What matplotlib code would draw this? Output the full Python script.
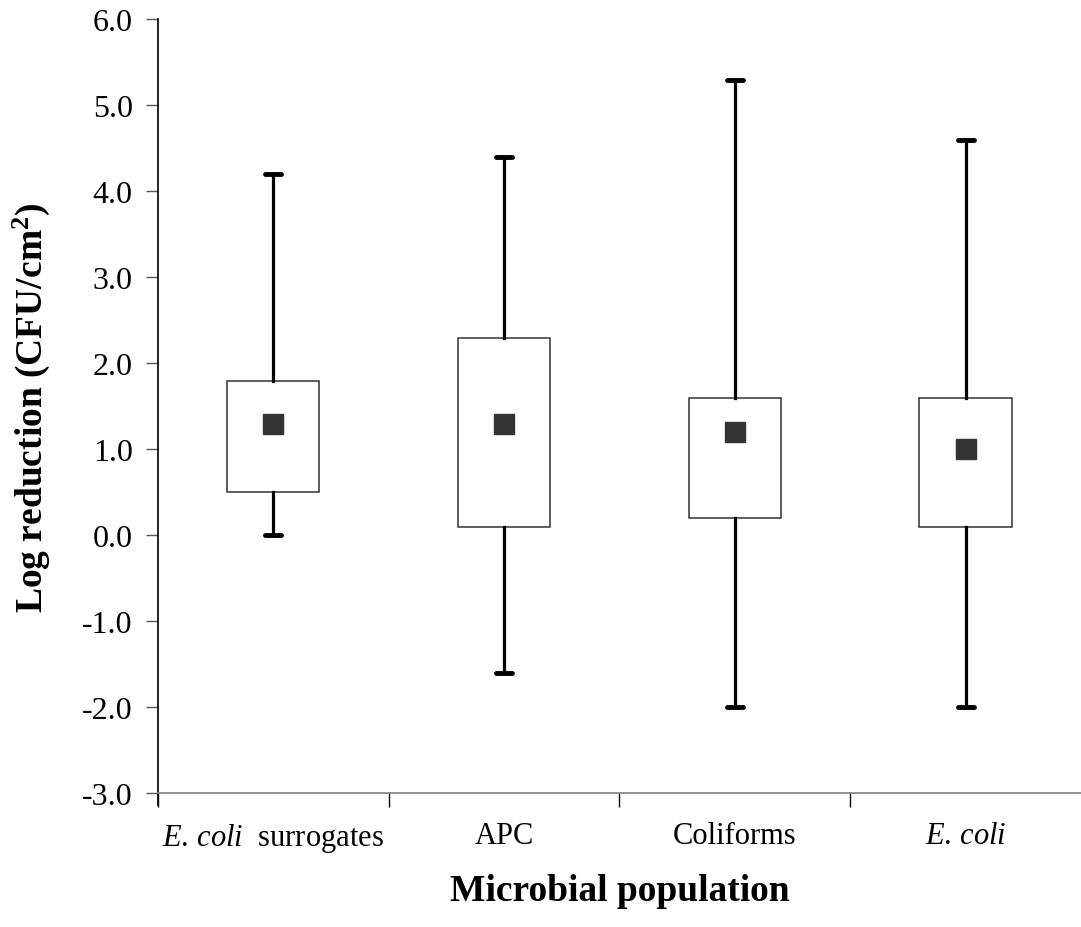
import matplotlib
matplotlib.use("Agg")
import matplotlib.pyplot as plt

# -----------------------------
# Data
# -----------------------------
labels = [r"$\it{E.\,coli}$  surrogates", "APC", "Coliforms", r"$\it{E.\,coli}$"]
mins = [0.0, -1.6, -2.0, -2.0]
q1s = [0.5, 0.1, 0.2, 0.1]
means = [1.3, 1.3, 1.2, 1.0]
q3s = [1.8, 2.3, 1.6, 1.6]
maxs = [4.2, 4.4, 5.3, 4.6]

plt.rcParams['font.family'] = ['Liberation Serif', 'DejaVu Serif']
plt.rcParams['mathtext.fontset'] = 'custom'
plt.rcParams['mathtext.rm'] = 'Liberation Serif'
plt.rcParams['mathtext.it'] = 'Liberation Serif:italic'
plt.rcParams['mathtext.bf'] = 'Liberation Serif:bold'

fig = plt.figure(figsize=(10.81, 9.28), dpi=100)
ax = fig.add_axes([0.146, 0.144, 0.854, 0.834])

stats = []
for lo, a, m, b, hi in zip(mins, q1s, means, q3s, maxs):
    stats.append({"whislo": lo, "q1": a, "med": m, "mean": m, "q3": b, "whishi": hi})

positions = list(range(1, len(stats) + 1))
ax.bxp(stats, positions=positions, widths=0.4, patch_artist=True,
       showmeans=True, showfliers=False, capwidths=0.07,
       boxprops=dict(facecolor="white", edgecolor="#333333", linewidth=1.1),
       whiskerprops=dict(color="black", linewidth=2.3),
       capprops=dict(color="black", linewidth=3.5, solid_capstyle="round"),
       medianprops=dict(visible=False),
       meanprops=dict(marker="s", markerfacecolor="#333333",
                      markeredgecolor="#333333", markersize=14))

# -----------------------------
# Axes styling
# -----------------------------
ax.set_xlim(0.5, 4.5)
ax.set_ylim(-3.0, 6.0)
ax.set_yticks(range(-3, 7))
ax.set_yticklabels([f"{v:.1f}" for v in range(-3, 7)], fontsize=23)

ax.set_xticks([0.5, 1.5, 2.5, 3.5])
ax.set_xticklabels([])
ax.set_xticks(positions, minor=True)
ax.set_xticklabels(labels, minor=True, fontsize=22)
ax.tick_params(axis="x", which="minor", length=0, pad=20)
ax.tick_params(axis="x", which="major", length=10, width=1, color="black", direction="out")
ax.tick_params(axis="y", length=9, width=1, color="#555555", direction="out", pad=9)

ax.spines["top"].set_visible(False)
ax.spines["right"].set_visible(False)
ax.spines["bottom"].set_color("#808080")
ax.spines["bottom"].set_linewidth(1.2)
ax.spines["left"].set_color("black")
ax.spines["left"].set_linewidth(1.2)
ax.spines["left"].set_bounds(-3.13, 6.0)

ax.set_ylabel(r"Log reduction (CFU/cm$^\mathbf{2}$)", fontsize=27, fontweight="bold", va="center")
ax.yaxis.set_label_coords(-0.137, 0.5)
ax.set_xlabel("Microbial population", fontsize=27, fontweight="bold", va="center")
ax.xaxis.set_label_coords(0.5, -0.125)

fig.savefig("out.png", dpi=100)
